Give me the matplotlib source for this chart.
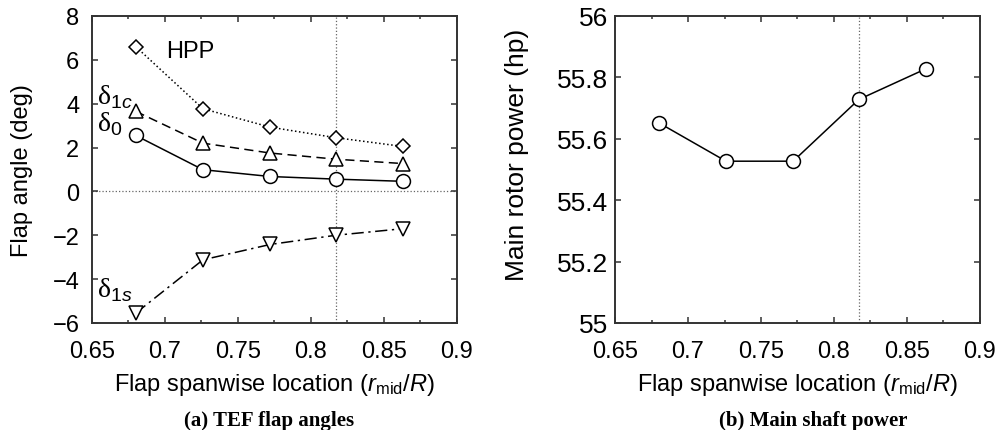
import matplotlib
matplotlib.use("Agg")
import matplotlib.pyplot as plt
from matplotlib.ticker import MultipleLocator

plt.rcParams['font.family'] = ['Liberation Sans', 'DejaVu Sans']
plt.rcParams['mathtext.fontset'] = 'custom'
plt.rcParams['mathtext.rm'] = 'Liberation Serif'
plt.rcParams['mathtext.it'] = 'Liberation Sans:italic'
plt.rcParams['mathtext.sf'] = 'Liberation Sans'
plt.rcParams['axes.linewidth'] = 1.4
plt.rcParams['axes.edgecolor'] = '#333333'

# flap midspan location r_mid/R
r_mid = [0.680, 0.726, 0.772, 0.817, 0.863]
r_ref = 0.817

# TEF flap angles (deg)
hpp = [6.6, 3.77, 2.93, 2.45, 2.05]
delta_1c = [3.65, 2.2, 1.75, 1.47, 1.27]
delta_0 = [2.55, 0.99, 0.68, 0.56, 0.46]
delta_1s = [-5.55, -3.12, -2.42, -2.0, -1.7]

# main rotor power (hp)
power = [55.652, 55.527, 55.527, 55.728, 55.828]

fig = plt.figure(figsize=(10.01, 4.31), dpi=100)
ax1 = fig.add_axes([0.0919, 0.2483, 0.3646, 0.7123])
ax2 = fig.add_axes([0.6144, 0.2483, 0.3646, 0.7123])

mk = dict(markerfacecolor='white', markeredgecolor='black', color='black',
          markeredgewidth=1.1, linewidth=1.1, zorder=3)

ax1.plot(r_mid, hpp, linestyle=':', marker='D', markersize=7, **mk)
ax1.plot(r_mid, delta_1c, linestyle=(0, (6, 3.5)), marker='^', markersize=10.5, **mk)
ax1.plot(r_mid, delta_0, linestyle='-', marker='o', markersize=10, **mk)
ax1.plot(r_mid, delta_1s, linestyle=(0, (8, 3, 1.5, 3)), marker='v', markersize=10.5, **mk)

ax1.axhline(0, color='#666666', linestyle=':', linewidth=0.9, zorder=1)
ax1.axvline(r_ref, color='#666666', linestyle=':', linewidth=0.9, zorder=1)

fs = 17
ax1.text(0.7007, 6.4, 'HPP', fontsize=fs, ha='left', va='center')
ax1.text(0.6535, 4.35, r'$\mathrm{\delta}_{\mathsf{1}c}$', fontsize=20, ha='left', va='center')
ax1.text(0.6535, 3.1, r'$\mathrm{\delta}_{\mathsf{0}}$', fontsize=20, ha='left', va='center')
ax1.text(0.6535, -4.45, r'$\mathrm{\delta}_{\mathsf{1}s}$', fontsize=20, ha='left', va='center')

ax1.set_xlim(0.65, 0.9)
ax1.set_ylim(-6, 8)
ax1.yaxis.set_major_locator(MultipleLocator(2))
ax1.set_ylabel('Flap angle (deg)', fontsize=fs, va='center')
ax1.yaxis.set_label_coords(-0.192, 0.5)

ax2.plot(r_mid, power, linestyle='-', marker='o', markersize=10, **mk)
ax2.axvline(r_ref, color='#666666', linestyle=':', linewidth=0.9, zorder=1)
ax2.set_xlim(0.65, 0.9)
ax2.set_ylim(55, 56)
ax2.set_ylabel('Main rotor power (hp)', fontsize=19, va='center')
ax2.yaxis.set_label_coords(-0.268, 0.55)

xticks = [0.65, 0.7, 0.75, 0.8, 0.85, 0.9]
xlabels = ['0.65', '0.7', '0.75', '0.8', '0.85', '0.9']
yticks2 = [55, 55.2, 55.4, 55.6, 55.8, 56]
ylabels2 = ['55', '55.2', '55.4', '55.6', '55.8', '56']
for ax in (ax1, ax2):
    ax.set_xticks(xticks)
    ax.set_xticklabels(xlabels)
    ax.xaxis.set_minor_locator(MultipleLocator(0.025))
    ax.tick_params(which='both', direction='in', top=True, right=True,
                   labelsize=fs, color='#333333')
    ax.tick_params(which='major', length=4.5, width=1.1)
    ax.tick_params(which='minor', length=2.5, width=1.1)
    ax.tick_params(axis='x', which='major', pad=12)
    ax.set_xlabel(r'Flap spanwise location ($r_{\mathsf{mid}}$/$R$)', fontsize=fs, va='center')
    ax.xaxis.set_label_coords(0.5, -0.199)
ax1.tick_params(axis='y', which='major', pad=9)
ax2.tick_params(axis='y', which='major', pad=5, labelsize=19)
ax2.set_yticks(yticks2)
ax2.set_yticklabels(ylabels2)

fig.text(0.269, 0.023, '(a) TEF flap angles', fontsize=15, fontweight='bold',
         family='Liberation Serif', ha='center', va='center')
fig.text(0.812, 0.023, '(b) Main shaft power', fontsize=15, fontweight='bold',
         family='Liberation Serif', ha='center', va='center')

fig.savefig('out.png', dpi=100)
